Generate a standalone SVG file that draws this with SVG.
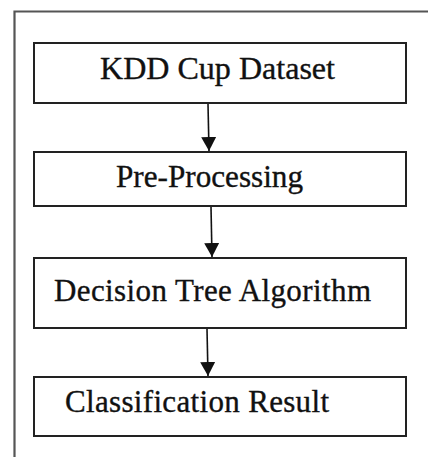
<svg xmlns="http://www.w3.org/2000/svg" width="428" height="457" viewBox="0 0 428 457">
<defs>
<style>
.box{fill:#fff;stroke:#222;stroke-width:2}
.lbl{font-family:"Liberation Serif","Times New Roman",serif;font-size:31px;fill:#111;stroke:#111;stroke-width:0.35}
.con{stroke:#111;stroke-width:1.6;fill:none}
</style>
<marker id="ah" markerWidth="14" markerHeight="15" refX="14" refY="7.5" orient="auto" markerUnits="userSpaceOnUse">
<path d="M0,0 L14,7.5 L0,15 Z" fill="#111"/>
</marker>
</defs>
<rect width="428" height="457" fill="#fff"/>
<path d="M14.5,457 V11.5 H428" fill="none" stroke="#555" stroke-width="2.2"/>
<g id="connectors">
<line class="con" x1="208" y1="104" x2="209" y2="151" marker-end="url(#ah)"/>
<line class="con" x1="211" y1="207" x2="212" y2="257" marker-end="url(#ah)"/>
<line class="con" x1="207" y1="329" x2="208" y2="376" marker-end="url(#ah)"/>
</g>
<g id="node-kdd">
<rect class="box" x="34" y="43" width="372" height="60"/>
<text class="lbl" x="100" y="79" textLength="235" lengthAdjust="spacingAndGlyphs">KDD Cup Dataset</text>
</g>
<g id="node-preprocessing">
<rect class="box" x="34" y="152" width="372" height="54"/>
<text class="lbl" x="116" y="187" textLength="187" lengthAdjust="spacingAndGlyphs">Pre-Processing</text>
</g>
<g id="node-decision-tree">
<rect class="box" x="34" y="258" width="372" height="70"/>
<text class="lbl" x="54" y="301" textLength="317" lengthAdjust="spacing">Decision Tree Algorithm</text>
</g>
<g id="node-result">
<rect class="box" x="34" y="377" width="372" height="59"/>
<text class="lbl" x="65" y="412" textLength="264" lengthAdjust="spacing">Classification Result</text>
</g>
</svg>
